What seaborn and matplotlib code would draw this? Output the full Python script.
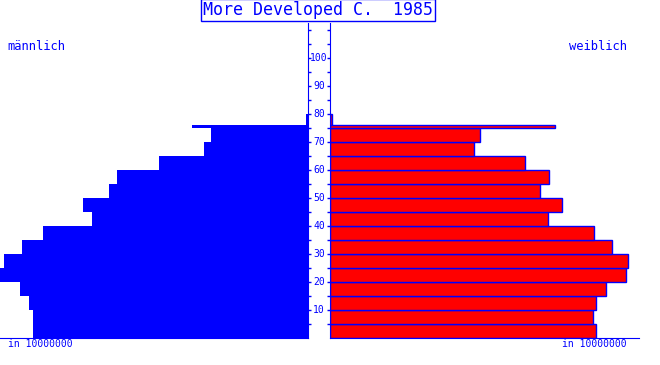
import matplotlib
matplotlib.use('Agg')
import matplotlib.pyplot as plt
import matplotlib.transforms as mtransforms
import numpy as np
import seaborn as sns

# Altersgruppen (Untergrenzen), letzte zwei: 75+ Balken und Rest bis 80
age_edges = [0, 5, 10, 15, 20, 25, 30, 35, 40, 45, 50, 55, 60, 65, 70, 75, 76, 80]
# Werte in 10 Mio.
maennlich = [4.40, 4.40, 4.46, 4.61, 4.98, 4.86, 4.58, 4.24, 3.46, 3.60, 3.18, 3.06, 2.38, 1.66, 1.55, 1.86, 0.03]
weiblich = [4.26, 4.21, 4.26, 4.42, 4.74, 4.77, 4.51, 4.22, 3.49, 3.71, 3.36, 3.50, 3.12, 2.30, 2.40, 3.60, 0.03]
alter_ticks = [10, 20, 30, 40, 50, 60, 70, 80, 90, 100]

BLUE = '#0000FF'
RED = '#FF0000'

sns.set_style('white')
plt.rcParams['font.family'] = ['DejaVu Sans Mono', 'DejaVu Sans']

fig = plt.figure(figsize=(6.6, 3.65), dpi=100)
W, H = 660, 365
ax_l = fig.add_axes([0 / W, (H - 338) / H, 308 / W, (338 - 23) / H])
ax_r = fig.add_axes([330 / W, (H - 338) / H, 309 / W, (338 - 23) / H])

mids = [(a + b) / 2 for a, b in zip(age_edges[:-1], age_edges[1:])]

sns.histplot(y=mids, weights=maennlich, bins=age_edges, ax=ax_l, color=BLUE,
             alpha=1, edgecolor=BLUE, linewidth=0)
sns.histplot(y=mids, weights=weiblich, bins=age_edges, ax=ax_r, color=RED,
             alpha=1, edgecolor=BLUE, linewidth=1)

ax_l.set_xlim(308 / 62.5, 0)
ax_r.set_xlim(0, 309 / 62.5)
for ax in (ax_l, ax_r):
    ax.set_ylim(0, 112.5)
    ax.set_xlabel('')
    ax.set_ylabel('')
    ax.set_xticks([1, 2, 3, 4])
    ax.set_xticklabels([])
    ax.set_yticks(np.arange(5, 115, 5))
    ax.set_yticklabels([])
    ax.spines['top'].set_visible(False)
    ax.tick_params(axis='x', direction='out', length=2, color=BLUE, width=1)

ax_l.spines['left'].set_visible(False)
ax_l.spines['right'].set_color(BLUE)
ax_l.spines['bottom'].set_color(BLUE)
ax_l.yaxis.tick_right()
ax_l.tick_params(axis='y', right=True, left=False, direction='out', length=2.5,
                 color=BLUE, width=1, labelright=False)

ax_r.spines['right'].set_visible(False)
ax_r.spines['left'].set_color(BLUE)
ax_r.spines['bottom'].set_color(BLUE)
ax_r.tick_params(axis='y', left=True, direction='out', length=2.5,
                 color=BLUE, width=1, labelleft=False)

# Alterslabels zwischen den beiden Achsen
trans = mtransforms.blended_transform_factory(fig.transFigure, ax_l.transData)
for a in alter_ticks:
    fig.text(319 / W, a, str(a), transform=trans, ha='center', va='center',
             fontsize=7, color=BLUE)

fig.text(318 / W, 1 - 10 / H, 'More Developed C.  1985', ha='center', va='center',
         fontsize=12, color=BLUE,
         bbox=dict(boxstyle='square,pad=0.12', fc='white', ec=BLUE, lw=1))
fig.text(7 / W, 1 - 46 / H, 'männlich', ha='left', va='center', fontsize=8.7, color=BLUE)
fig.text(627 / W, 1 - 46 / H, 'weiblich', ha='right', va='center', fontsize=8.7, color=BLUE)
fig.text(8 / W, 1 - 344 / H, 'in 10000000', ha='left', va='center', fontsize=7, color=BLUE)
fig.text(627 / W, 1 - 344 / H, 'in 10000000', ha='right', va='center', fontsize=7, color=BLUE)

fig.savefig('out.png', dpi=100)
